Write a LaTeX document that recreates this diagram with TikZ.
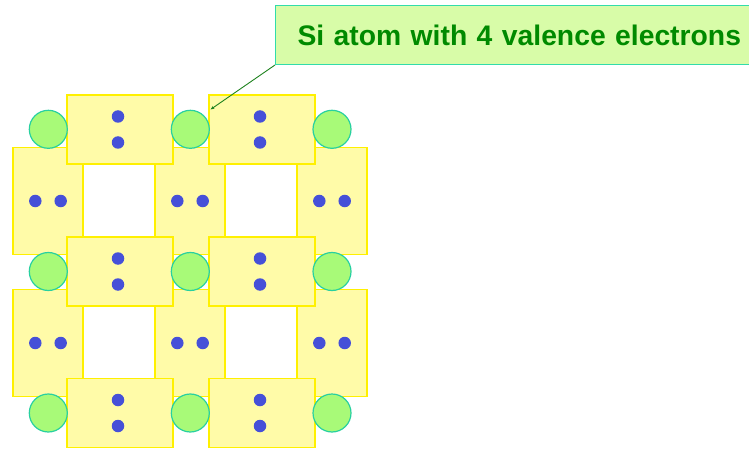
\documentclass[tikz,border=0pt]{standalone}
\usepackage{fontspec}
\setmainfont{Liberation Sans}
\usetikzlibrary{arrows.meta}
\definecolor{bondfill}{RGB}{255,251,168}
\definecolor{bondline}{RGB}{255,240,0}
\definecolor{atomfill}{RGB}{168,250,120}
\definecolor{atomline}{RGB}{40,208,160}
\definecolor{elec}{RGB}{70,80,216}
\definecolor{labfill}{RGB}{216,252,168}
\definecolor{labline}{RGB}{50,220,170}
\definecolor{labtext}{RGB}{0,138,0}
\definecolor{ptr}{RGB}{30,130,30}
\tikzset{
  hbond/.style={draw=bondline, fill=bondfill, line width=1.3pt, minimum width=106pt, minimum height=69pt, inner sep=0pt},
  vbond/.style={draw=bondline, fill=bondfill, line width=1.3pt, minimum width=70pt, minimum height=107pt, inner sep=0pt},
  atom/.style={circle, draw=atomline, fill=atomfill, line width=1.2pt, minimum size=38pt, inner sep=0pt},
  electron/.style={circle, fill=elec, minimum size=12.5pt, inner sep=0pt},
  labelbox/.style={draw=labline, fill=labfill, line width=1pt, text=labtext, font=\fontsize{28.3}{34}\selectfont\bfseries, text width=520pt, align=left, inner xsep=22pt, minimum height=59pt},
  pointer/.style={draw=ptr, line width=0.9pt, -{Stealth[length=4pt,width=3pt]}}
}
\begin{document}
\begin{tikzpicture}[x=1pt,y=-1pt]
\useasboundingbox (0,0) rectangle (749,449);
\begin{scope}
\clip (0,0) rectangle (749,449);
% vertical bonds
\foreach \c/\x in {1/48,2/190,3/332}{
  \foreach \r/\y in {1/201,2/343}{
    \node[vbond] (v\c\r) at (\x,\y) {};
    \node[electron] (v\c\r a) at (\x-12.7,\y) {};
    \node[electron] (v\c\r b) at (\x+12.7,\y) {};
  }
}
% horizontal bonds
\foreach \c/\x in {1/120,2/262}{
  \foreach \r/\y in {1/129.5,2/271.5,3/413}{
    \node[hbond] (h\c\r) at (\x,\y) {};
    \node[electron] (h\c\r a) at (\x-2,\y-13) {};
    \node[electron] (h\c\r b) at (\x-2,\y+13) {};
  }
}
% atoms
\foreach \c/\x in {1/48.3,2/190.3,3/332}{
  \foreach \r/\y in {1/129.3,2/271.5,3/413}{
    \node[atom] (a\c\r) at (\x,\y) {};
  }
}
% label
\node[labelbox, anchor=south west] (lab) at (275,65) {Si atom with 4 valence electrons};
\coordinate (tip) at (210.5,109.5);
\draw[pointer] (lab.south west) -- (tip);
\end{scope}
\end{tikzpicture}
\end{document}
